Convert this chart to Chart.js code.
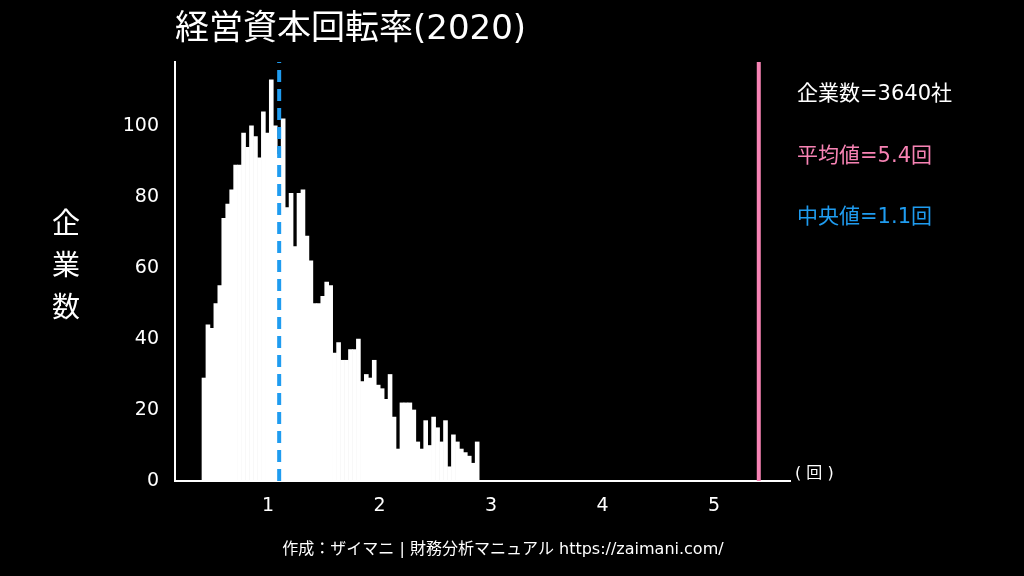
<!DOCTYPE html>
<html>
<head>
<meta charset="utf-8">
<script src="https://cdn.jsdelivr.net/npm/chart.js@4"></script>
<style>
  body { margin: 0; background: #000; }
  canvas { display: block; }
</style>
</head>
<body>
<canvas id="c" width="1024" height="576"></canvas>
<script>
// histogram of 経営資本回転率 (2020)
const binStart = 0.408;
const binWidth = 0.0355;
const counts = [29, 44, 43, 50, 55, 74, 78, 82, 89, 89, 98, 94, 100, 97, 91, 104, 98, 113, 100, 92,
  102, 77, 81, 66, 81, 82, 69, 62, 50, 50, 52, 56, 55, 36, 39, 34, 34, 37, 37, 40,
  28, 30, 29, 34, 27, 26, 23, 30, 18, 9, 22, 22, 22, 20, 11, 9, 17, 10, 18, 15,
  11, 17, 4, 13, 11, 9, 8, 7, 5, 11];
const xTicks = [1, 2, 3, 4, 5];
const yTicks = [0, 20, 40, 60, 80, 100];
const meanVal = 5.4;
const medianVal = 1.1;
const labels = ['企業数=3640社', '平均値=5.4回', '中央値=1.1回'];

const bars = counts.map((v, i) => ({ x: binStart + (i + 0.5) * binWidth, y: v }));
const FONT = '"DejaVu Sans", "Noto Sans CJK JP", sans-serif';

const decor = {
  id: 'decor',
  afterDatasetsDraw(chart) {
    const { ctx, scales: { x, y }, chartArea } = chart;
    ctx.save();
    // median (dashed blue) and mean (pink)
    ctx.lineWidth = 4;
    ctx.strokeStyle = '#1f9cf0';
    ctx.setLineDash([12, 7]);
    ctx.beginPath();
    ctx.moveTo(x.getPixelForValue(medianVal), chartArea.bottom);
    ctx.lineTo(x.getPixelForValue(medianVal), chartArea.top);
    ctx.stroke();
    ctx.setLineDash([]);
    ctx.strokeStyle = '#f783b4';
    ctx.beginPath();
    ctx.moveTo(x.getPixelForValue(meanVal), chartArea.bottom);
    ctx.lineTo(x.getPixelForValue(meanVal), chartArea.top);
    ctx.stroke();

    ctx.textBaseline = 'middle';
    ctx.textAlign = 'left';
    ctx.font = '21px ' + FONT;
    ctx.fillStyle = '#ffffff';
    ctx.fillText(labels[0], 797, 95);
    ctx.fillStyle = '#f783b4';
    ctx.fillText(labels[1], 797, 157);
    ctx.fillStyle = '#1f9cf0';
    ctx.fillText(labels[2], 797, 218);

    ctx.fillStyle = '#ffffff';
    ctx.font = '16px ' + FONT;
    ctx.fillText('( 回 )', 795, 474);

    ctx.font = '34px ' + FONT;
    ctx.fillText('経営資本回転率(2020)', 175, 30);

    ctx.font = '28px ' + FONT;
    ctx.textAlign = 'center';
    ['企', '業', '数'].forEach((ch, i) => ctx.fillText(ch, 66, 226 + i * 42));

    ctx.font = '16px ' + FONT;
    ctx.fillText('作成：ザイマニ | 財務分析マニュアル https://zaimani.com/', 503, 550);
    ctx.restore();
  }
};

new Chart(document.getElementById('c'), {
  type: 'bar',
  data: {
    datasets: [{
      data: bars,
      backgroundColor: '#ffffff',
      borderWidth: 0,
      barPercentage: 1,
      categoryPercentage: 1
    }]
  },
  options: {
    responsive: false,
    devicePixelRatio: 1,
    animation: false,
    layout: { padding: { top: 62, right: 234, bottom: 0, left: 0 } },
    plugins: { legend: { display: false }, tooltip: { enabled: false } },
    scales: {
      x: {
        type: 'linear',
        offset: false,
        min: 0.166,
        max: 5.68,
        grid: { display: false, drawTicks: true },
        border: { color: '#ffffff', width: 2 },
        afterBuildTicks: s => { s.ticks = xTicks.map(v => ({ value: v })); },
        afterFit: s => { s.height = 95; },
        ticks: { color: '#ffffff', font: { size: 19, family: FONT }, padding: 6 }
      },
      y: {
        min: 0,
        max: 118,
        grid: { display: false },
        border: { color: '#ffffff', width: 2 },
        afterBuildTicks: s => { s.ticks = yTicks.map(v => ({ value: v })); },
        afterFit: s => { s.width = 175; },
        ticks: { color: '#ffffff', font: { size: 19, family: FONT }, padding: 8 }
      }
    }
  },
  plugins: [{
    id: 'bg',
    beforeDraw(chart) {
      const c = chart.ctx;
      c.save();
      c.fillStyle = '#000000';
      c.fillRect(0, 0, chart.width, chart.height);
      c.restore();
    }
  }, decor]
});
</script>
</body>
</html>
